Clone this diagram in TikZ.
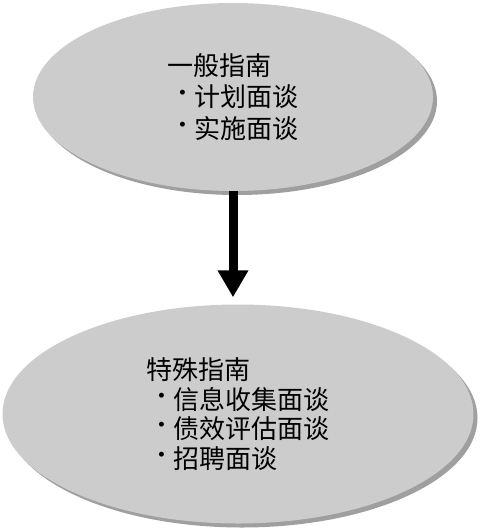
\documentclass[tikz,border=0pt]{standalone}
\usepackage{fontspec}
\newfontfamily\cjk{Noto Sans CJK SC}
\usetikzlibrary{positioning,arrows.meta,shapes.geometric,shadows}
\newcommand{\itm}[1]{\makebox[27pt][l]{\hspace{7pt}\raisebox{8pt}{\fontsize{22}{22}\rmfamily\selectfont\textbullet}}#1}

\begin{document}
\begin{tikzpicture}[x=1pt,y=-1pt,
  e/.style={ellipse,fill=gray!40,align=left,inner sep=0pt,
    drop shadow={shadow xshift=4pt,shadow yshift=-4pt,fill=gray!75,opacity=1}}]
  \useasboundingbox (0,0) rectangle (480,530);
  \node[e,minimum width=400pt,minimum height=188pt,font=\cjk\fontsize{26}{31.5}\selectfont] (gen) at (233,97)
    {一般指南\\\itm{计划面谈}\\\itm{实施面谈}};
  \node[e,minimum width=471pt,minimum height=219pt,font=\cjk\fontsize{26}{29.5}\selectfont] (spec) at (238,414)
    {特殊指南\\\itm{信息收集面谈}\\\itm{债效评估面谈}\\\itm{招聘面谈}};
  \draw[line width=9pt,-{Triangle[width=29pt,length=27pt]},shorten >=7pt] (gen.south) -- (gen.south |- spec.north);
\end{tikzpicture}
\end{document}
